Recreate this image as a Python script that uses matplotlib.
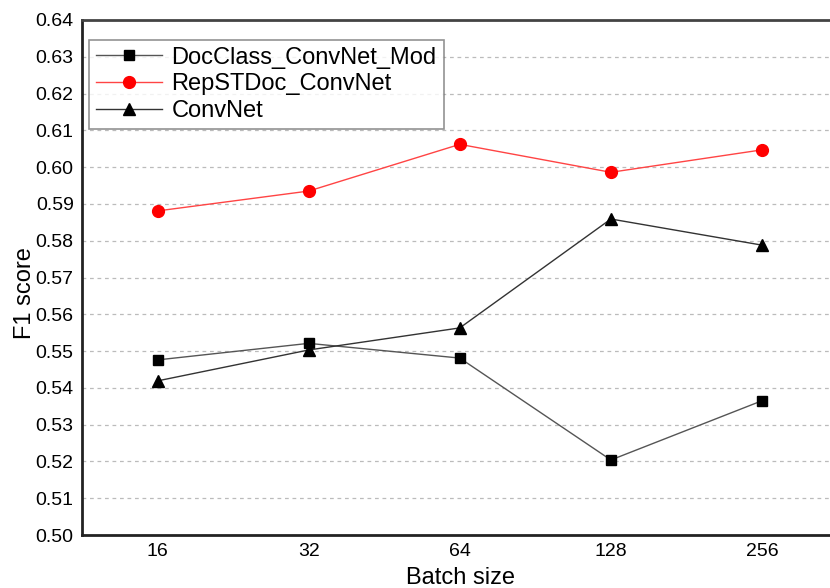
import matplotlib
matplotlib.use("Agg")
import matplotlib.pyplot as plt

batch_sizes = ["16", "32", "64", "128", "256"]
docclass_mod = [0.5476, 0.5521, 0.5481, 0.5204, 0.5365]
repstdoc = [0.5881, 0.5935, 0.6062, 0.5986, 0.6047]
convnet = [0.5419, 0.5503, 0.5563, 0.5859, 0.5788]

plt.rcParams['font.family'] = ['Liberation Sans', 'DejaVu Sans']

fig = plt.figure(figsize=(8.3, 5.88), dpi=100)
ax = fig.add_axes([0.0988, 0.0901, 0.9012, 0.8759])

x = list(range(len(batch_sizes)))
ax.plot(x, docclass_mod, color='#555555', lw=1, marker='s', ms=7,
        mfc='black', mec='black', label='DocClass_ConvNet_Mod', zorder=3)
ax.plot(x, repstdoc, color='#ff4444', lw=1, marker='o', ms=8.5,
        mfc='red', mec='red', label='RepSTDoc_ConvNet', zorder=3)
ax.plot(x, convnet, color='#333333', lw=1, marker='^', ms=9,
        mfc='black', mec='black', label='ConvNet', zorder=3)

ax.set_xlim(-0.5, 4.45)
ax.set_ylim(0.50, 0.64)
ax.set_xticks(x)
ax.set_xticklabels(batch_sizes)
ax.set_yticks([0.50 + 0.01 * i for i in range(15)])
ax.set_yticklabels(["%.2f" % (0.50 + 0.01 * i) for i in range(15)])
ax.tick_params(axis='both', labelsize=14, length=0, pad=6)

ax.yaxis.grid(True, linestyle=(0, (3, 3)), color='#bbbbbb', lw=0.9)
ax.set_axisbelow(True)

for s in ['left', 'bottom']:
    ax.spines[s].set_linewidth(2)
    ax.spines[s].set_color('#222222')
ax.spines['top'].set_linewidth(2)
ax.spines['top'].set_color('#444444')
ax.spines['right'].set_visible(False)

ax.set_xlabel("Batch size", fontsize=17)
ax.set_ylabel("F1 score", fontsize=17)
ax.xaxis.set_label_coords(0.506, -0.062)
ax.yaxis.set_label_coords(-0.062, 0.47)

leg = ax.legend(loc='upper left', bbox_to_anchor=(0.009, 0.962), fontsize=17,
                frameon=True, fancybox=False, edgecolor='#777777',
                handlelength=2.8, handletextpad=0.4, labelspacing=0.2,
                borderpad=0.3, borderaxespad=0)
leg.get_frame().set_linewidth(1.2)

fig.savefig("out.png", dpi=100)
